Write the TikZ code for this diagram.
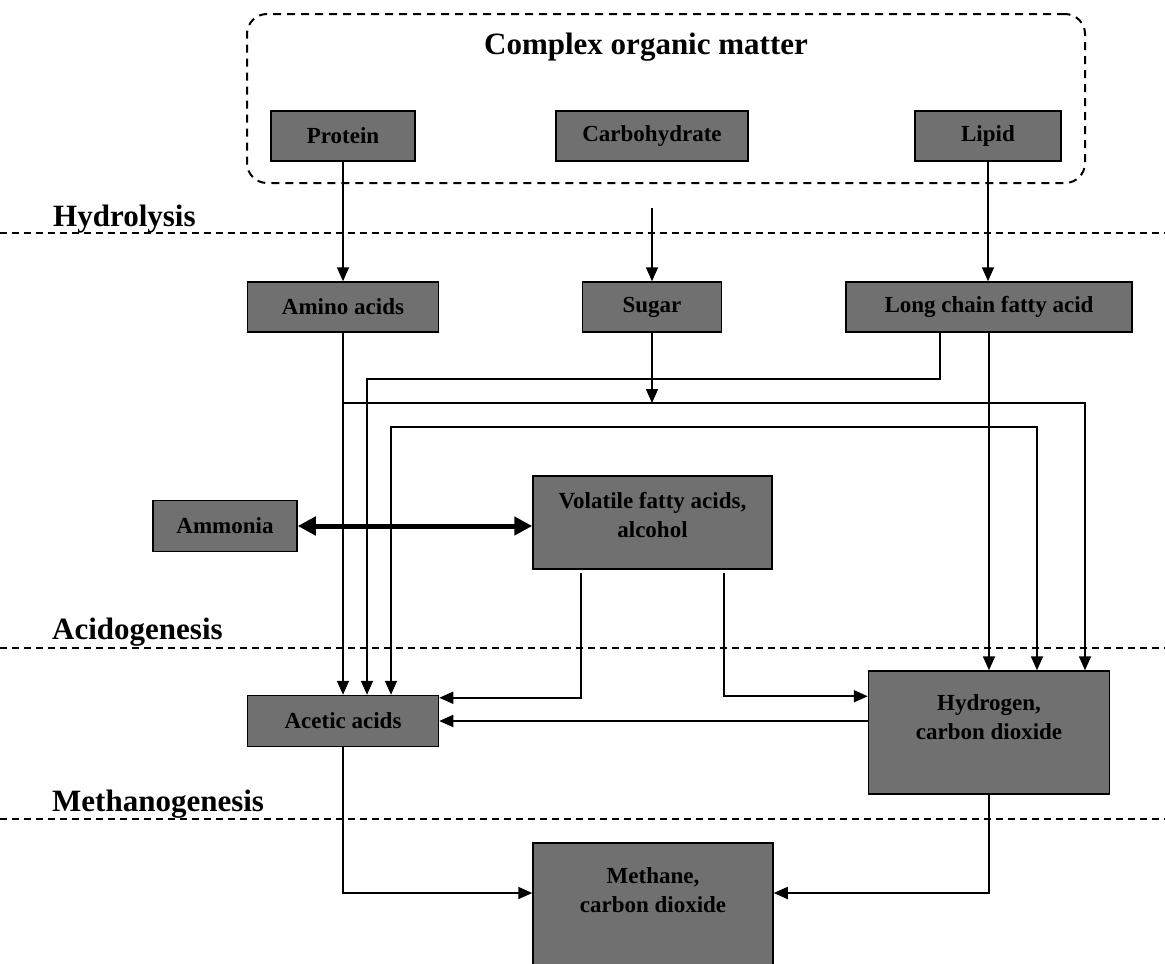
\documentclass[tikz,border=0pt]{standalone}
\usepackage{fontspec}
\setmainfont{Liberation Serif}
\usetikzlibrary{arrows.meta}
\definecolor{boxgray}{RGB}{112,112,112}
\begin{document}
\begin{tikzpicture}[x=1pt,y=-1pt,
  box/.style={draw=black, line width=1.5pt, fill=boxgray, inner sep=0pt, align=center,
    font=\fontsize{23}{28}\selectfont\bfseries},
  lbl/.style={inner sep=0pt, align=center, font=\fontsize{23}{29}\selectfont\bfseries},
  phaselbl/.style={inner sep=0pt, font=\fontsize{31}{36}\selectfont\bfseries},
  phaseline/.style={line width=2pt, dash pattern=on 7pt off 5pt},
  arr/.style={line width=1.8pt, -{Triangle[length=14pt,width=12pt]}},
  arrboth/.style={line width=1.8pt, {Triangle[length=14pt,width=12pt]}-{Triangle[length=14pt,width=12pt]}},
  dbl/.style={line width=5pt, {Triangle[length=18pt,width=18pt]}-{Triangle[length=18pt,width=18pt]}}]
\useasboundingbox (0,0) rectangle (1165,964);
\clip (0,0) rectangle (1165,964);
\fill[white] (0,0) rectangle (1165,964);

% frame of complex organic matter
\node[draw=black, line width=2pt, dash pattern=on 8pt off 6pt, rounded corners=20pt,
  minimum width=838pt, minimum height=169pt, inner sep=0pt] (complex) at (666,98.5) {};
\node[anchor=base, phaselbl] (title) at (646,54) {Complex organic matter};

% phase lines and labels
\draw[phaseline] (0,233) -- (1165,233);
\draw[phaseline] (0,648) -- (1165,648);
\draw[phaseline] (0,819) -- (1165,819);
\node[anchor=base west, phaselbl] (hyd) at (53,226) {Hydrolysis};
\node[anchor=base west, phaselbl] (acid) at (52,639) {Acidogenesis};
\node[anchor=base west, phaselbl] (meth) at (52,811) {Methanogenesis};

% boxes
\node[box, minimum width=144pt, minimum height=50pt] (protein) at (343,136) {Protein};
\node[box, minimum width=192pt, minimum height=50pt] (carb) at (652,136) {Carbohydrate};
\node[box, minimum width=146pt, minimum height=50pt] (lipid) at (988,136) {Lipid};
\node[box, minimum width=191pt, minimum height=50pt] (amino) at (343,307) {Amino acids};
\node[box, minimum width=139pt, minimum height=50pt] (sugar) at (652,307) {Sugar};
\node[box, minimum width=286pt, minimum height=50pt] (lcfa) at (989,307) {Long chain fatty acid};
\node[box, minimum width=144pt, minimum height=51pt] (ammonia) at (225,526) {Ammonia};
\node[box, minimum width=239pt, minimum height=93pt,
  label={[lbl, yshift=7.5pt]center:{Volatile fatty acids,\\alcohol}}] (vfa) at (652.5,522.5) {};
\node[box, minimum width=191pt, minimum height=51pt] (acetic) at (343,721) {Acetic acids};
\node[box, minimum width=241pt, minimum height=123pt,
  label={[lbl, yshift=15.5pt]center:{Hydrogen,\\carbon dioxide}}] (hydrogen) at (989,732.5) {};
\node[box, minimum width=240pt, minimum height=150pt,
  label={[lbl, yshift=28pt]center:{Methane,\\carbon dioxide}}] (methane) at (653,918) {};

% connectors
\coordinate (sugarin) at (652,208);
\draw[arr] (protein.south) -- (protein.south |- amino.north);
\draw[arr] (sugarin) -- (sugar.north);
\draw[arr] (lipid.south) -- (lipid.south |- lcfa.north);
\draw[arr] (amino.south) -- (acetic.north);

\coordinate (j1) at (343,403);
\coordinate (j1e) at (1085,403);
\draw[arr] (j1) -- (j1e) -- (j1e |- hydrogen.north);
\draw[arr] (sugar.south) -- (sugar.south |- j1);

\coordinate (k1) at (940,379);
\coordinate (k2) at (367,379);
\draw[arr] (lcfa.south -| k1) -- (k1) -- (k2) -- (k2 |- acetic.north);
\draw[arr] (lcfa.south) -- (lcfa.south |- hydrogen.north);

\coordinate (m1) at (391,427);
\coordinate (m2) at (1037,427);
\draw[arrboth] (m1 |- acetic.north) -- (m1) -- (m2) -- (m2 |- hydrogen.north);

\draw[dbl] (ammonia.east) -- (ammonia.east -| vfa.west);

\coordinate (v1) at (581,573);
\coordinate (v2) at (724,573);
\draw[arr] (v1) |- ([yshift=-3pt]acetic.north east);
\draw[arr] (v2) |- ([yshift=-26pt]hydrogen.north west);
\draw[arr] (hydrogen.west |- acetic.east) -- (acetic.east);
\draw[arr] (acetic.south) |- ([yshift=25pt]methane.west);
\draw[arr] (hydrogen.south) |- ([yshift=25pt]methane.east);
\end{tikzpicture}
\end{document}
